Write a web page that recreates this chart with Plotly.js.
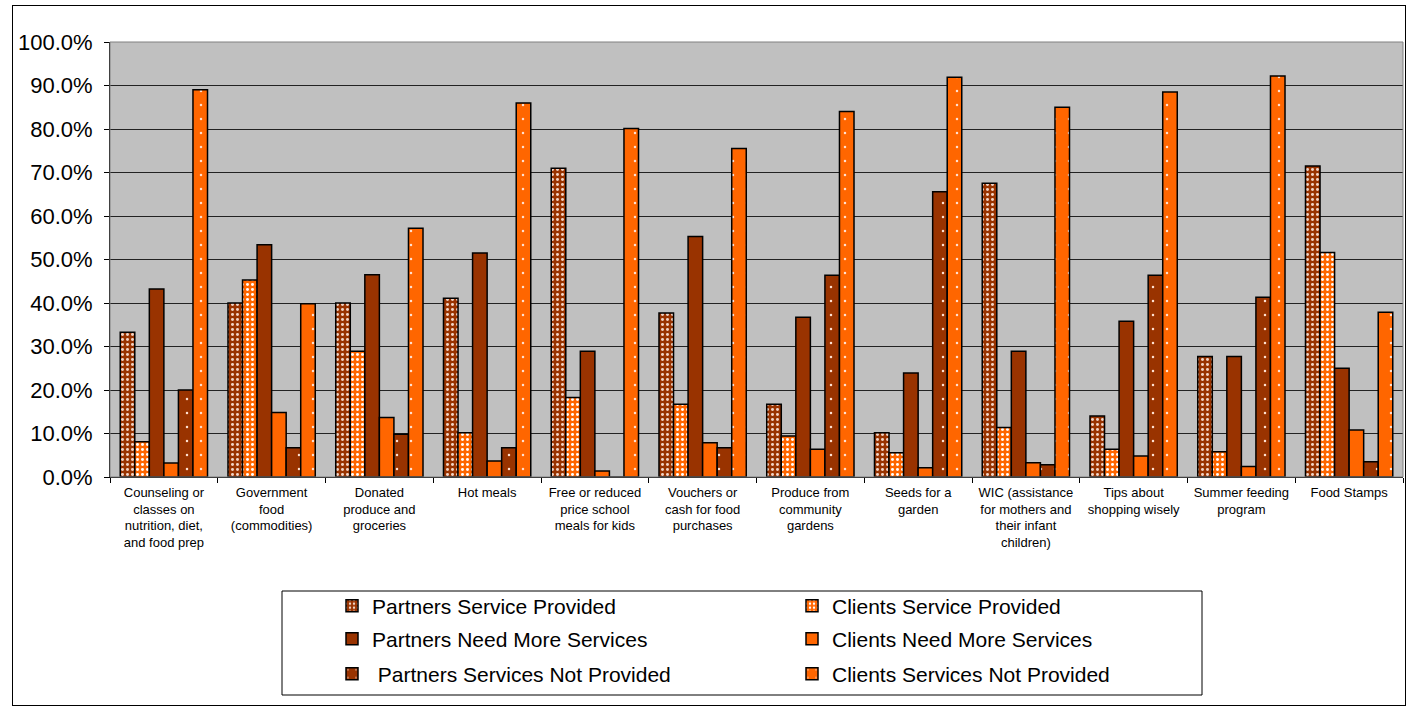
<!DOCTYPE html>
<html>
<head>
<meta charset="utf-8">
<script src="https://cdn.plot.ly/plotly-3.0.1.min.js"></script>
<style>
html,body{margin:0;padding:0;background:#fff;}
#wrap{position:relative;width:1406px;height:709px;}
#chart{position:absolute;left:0;top:0;width:1406px;height:709px;}
#frame{position:absolute;left:12px;top:5px;width:1392px;height:699px;border:1px solid #000;pointer-events:none;}
</style>
</head>
<body>
<div id="wrap"><div id="chart"></div><div id="frame"></div></div>
<script>
const categories = [
  "Counseling or<br>classes on<br>nutrition, diet,<br>and food prep",
  "Government<br>food<br>(commodities)",
  "Donated<br>produce and<br>groceries",
  "Hot meals",
  "Free or reduced<br>price school<br>meals for kids",
  "Vouchers or<br>cash for food<br>purchases",
  "Produce from<br>community<br>gardens",
  "Seeds for a<br>garden",
  "WIC (assistance<br>for mothers and<br>their infant<br>children)",
  "Tips about<br>shopping wisely",
  "Summer feeding<br>program",
  "Food Stamps"
];
const partnersServiceProvided = [33.3, 40.0, 40.0, 41.1, 71.0, 37.7, 16.7, 10.2, 67.5, 14.0, 27.7, 71.5];
const clientsServiceProvided  = [8.1, 45.3, 28.9, 10.2, 18.3, 16.7, 9.4, 5.6, 11.4, 6.4, 5.8, 51.6];
const partnersNeedMore        = [43.2, 53.4, 46.5, 51.5, 28.9, 55.3, 36.7, 23.9, 28.9, 35.8, 27.7, 25.0];
const clientsNeedMore         = [3.2, 14.8, 13.7, 3.7, 1.4, 7.9, 6.4, 2.1, 3.3, 4.8, 2.4, 10.8];
const partnersNotProvided     = [20.0, 6.7, 9.8, 6.7, 0, 6.7, 46.4, 65.6, 2.8, 46.4, 41.3, 3.5];
const clientsNotProvided      = [89.0, 39.8, 57.2, 86.0, 80.1, 75.5, 84.0, 91.9, 85.0, 88.5, 92.2, 37.9];
const seriesNames = [
  "Partners Service Provided", "Clients Service Provided",
  "Partners Need More Services", "Clients Need More Services",
  "\u00a0Partners Services Not Provided", "Clients Services Not Provided"
];
const yTickVals = [0, 10, 20, 30, 40, 50, 60, 70, 80, 90, 100];
const yTickText = ["0.0%", "10.0%", "20.0%", "30.0%", "40.0%", "50.0%", "60.0%", "70.0%", "80.0%", "90.0%", "100.0%"];

const DARK = '#993300', ORANGE = '#FF6600';
const FONT = '"Liberation Sans", Arial, sans-serif';

function bar(name, y, color, pattern, legend) {
  const m = {color: color, line: {color: '#000', width: 1.5}};
  if (pattern) m.pattern = pattern;
  return {type: 'bar', name: name, x: categories, y: y, marker: m, legend: legend,
          hoverinfo: 'x+y'};
}
const dense = (c, fg) => ({shape: '.', bgcolor: c, fgcolor: fg, size: 5, solidity: 0.28, fillmode: 'replace'});
const sparse = c => ({shape: '.', bgcolor: c, fgcolor: '#ffe0d0', size: 14, solidity: 0.025, fillmode: 'replace'});

const data = [
  bar(seriesNames[0], partnersServiceProvided, DARK, dense(DARK, '#f2d6c8'), 'legend'),
  bar(seriesNames[1], clientsServiceProvided, ORANGE, dense(ORANGE, '#ffffff'), 'legend2'),
  bar(seriesNames[2], partnersNeedMore, DARK, null, 'legend3'),
  bar(seriesNames[3], clientsNeedMore, ORANGE, null, 'legend4'),
  bar(seriesNames[4], partnersNotProvided, DARK, sparse(DARK), 'legend5'),
  bar(seriesNames[5], clientsNotProvided, ORANGE, sparse(ORANGE), 'legend6')
];

const L = 110, R = 3, T = 42, B = 232;
const PW = 1406 - L - R, PH = 709 - T - B;
const px = v => (v - L) / PW;
const py = v => (709 - B - v) / PH;

function leg(xp, yp) {
  return {x: px(xp), y: py(yp), xanchor: 'left', yanchor: 'middle', orientation: 'h',
          bgcolor: 'rgba(0,0,0,0)', borderwidth: 0,
          font: {family: FONT, size: 21, color: '#000'}};
}

const layout = {
  width: 1406, height: 709,
  margin: {l: L, r: R, t: T, b: B, pad: 0},
  paper_bgcolor: 'rgba(0,0,0,0)',
  plot_bgcolor: '#C0C0C0',
  font: {family: FONT, color: '#000'},
  barmode: 'group', bargap: 0.19, bargroupgap: 0,
  showlegend: true,
  xaxis: {
    type: 'category', tickangle: 0, ticks: 'outside', tickson: 'boundaries',
    ticklen: 5, tickcolor: '#000', showline: true, linecolor: '#000', linewidth: 1,
    ticklabelstandoff: 3,
    tickfont: {family: FONT, size: 13, color: '#000'}, showgrid: false, fixedrange: true
  },
  yaxis: {
    range: [0, 100], tickmode: 'array', tickvals: yTickVals, ticktext: yTickText,
    ticks: 'outside', ticklen: 5, tickcolor: '#000', showline: true, linecolor: '#000',
    ticklabelstandoff: 7,
    showgrid: true, gridcolor: '#222', gridwidth: 1, zeroline: false,
    tickfont: {family: FONT, size: 22, color: '#000'}, fixedrange: true
  },
  legend: leg(332, 606),
  legend2: leg(792, 606),
  legend3: leg(332, 639),
  legend4: leg(792, 639),
  legend5: leg(332, 674),
  legend6: leg(792, 674),
  shapes: [
    {type: 'rect', xref: 'paper', yref: 'paper', x0: 0, x1: 1, y0: 0, y1: 1,
     line: {color: '#808080', width: 1}, layer: 'above'},
    {type: 'rect', xref: 'paper', yref: 'paper', x0: px(282), x1: px(1202), y0: py(695), y1: py(591),
     line: {color: '#000', width: 1}, fillcolor: 'rgba(0,0,0,0)'}
  ]
};

Plotly.newPlot('chart', data, layout, {displayModeBar: false, staticPlot: true});
</script>
</body>
</html>
